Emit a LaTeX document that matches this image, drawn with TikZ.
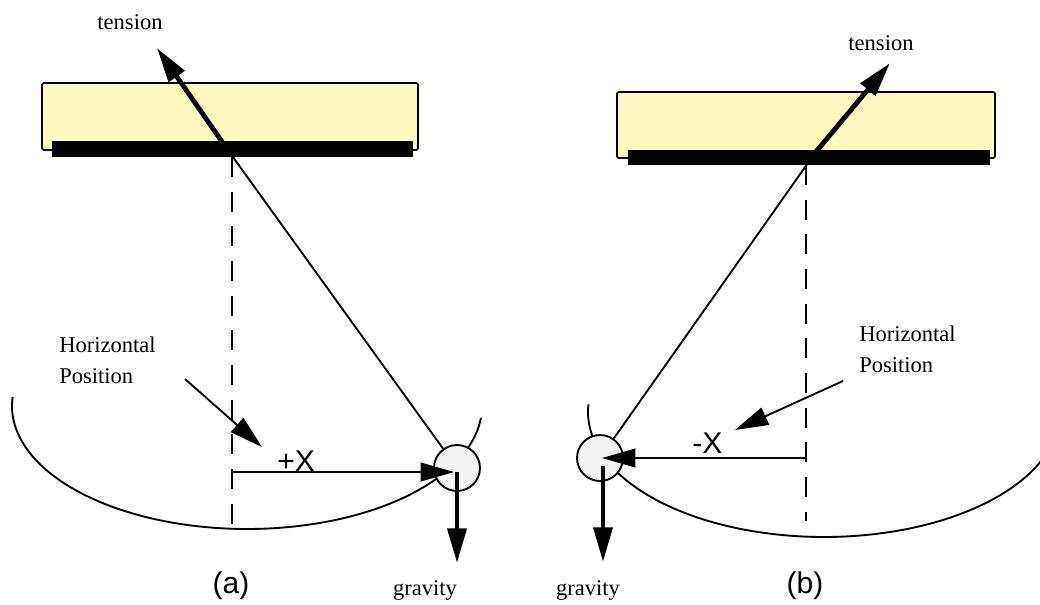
\documentclass[tikz,border=0pt]{standalone}
\usepackage{fontspec}
\usetikzlibrary{arrows.meta}
\newfontfamily\serifT{Liberation Serif}
\newfontfamily\sansT{Liberation Sans}
\definecolor{boxyellow}{RGB}{255,251,192}
\definecolor{bobgray}{RGB}{244,244,244}
\begin{document}
\begin{tikzpicture}[x=0.75pt,y=-0.75pt,
  thinline/.style={line width=1.4pt},
  thickarrow/.style={line width=3.6pt,-{Triangle[length=26pt,width=14pt]}},
  thinarrow/.style={line width=1.4pt,-{Triangle[length=25pt,width=14pt]}},
  dashline/.style={line width=1.4pt,dash pattern=on 15pt off 11pt},
  panel/.style={draw=black,line width=1.2pt,fill=boxyellow,rounded corners=1.2pt},
  bob/.style={circle,draw=black,line width=1.4pt,fill=bobgray,minimum size=34.5pt,inner sep=0pt},
  serlabel/.style={font=\serifT\fontsize{16.9}{20}\selectfont,inner sep=0pt,anchor=base},
  sanslabel/.style={font=\sansT\fontsize{22.5}{26}\selectfont,inner sep=0pt,anchor=base}]
\useasboundingbox (0,0) rectangle (1040,604);
\clip (0,0) rectangle (1040,604);

% ---------- panel (a) ----------
\draw[panel] (42,83) rectangle (418,150);
\fill (52,141) rectangle (413,157);
\coordinate (Pa) at (225,146);
\draw[dashline] (232,157) -- (232,529);
\draw[thinline] plot[domain=5.5:184.2,samples=120,smooth] ({247+235*cos(\x)},{406+123*sin(\x)});
\node[bob] (boba) at (457,468) {};
\draw[thinline] (Pa) -- (boba);
\coordinate (xa0) at (232,472);
\coordinate (xa1) at (454,472);
\draw[thinarrow] (xa0) -- (xa1);
\coordinate (ga1) at (457,563);
\draw[thickarrow] (xa1 -| boba.center) -- (ga1);
\coordinate (ta) at (157,48);
\draw[thickarrow] (Pa) -- (ta);
\coordinate (ha0) at (185,379);
\coordinate (ha1) at (262,447);
\draw[thinarrow] (ha0) -- (ha1);
\node[serlabel] (tena) at (130,29) {tension};
\node[serlabel,anchor=base west] (hora) at (59,352) {Horizontal};
\node[serlabel,anchor=base west] (posa) at (59,383) {Position};
\node[sanslabel,anchor=base west] (pxa) at (277,471) {+X};
\node[serlabel] (grava) at (425,595) {gravity};
\node[sanslabel] (laba) at (231,593) {(a)};

% ---------- panel (b) ----------
\draw[panel] (617,92) rectangle (995,158);
\fill (628,150) rectangle (990,165);
\coordinate (Pb) at (815,153);
\draw[dashline] (806,165) -- (806,521);
\draw[thinline] plot[domain=20:183.5,samples=120,smooth] ({824+236*cos(\x)},{412+125*sin(\x)});
\node[bob] (bobb) at (600,458) {};
\draw[thinline] (Pb) -- (bobb);
\coordinate (xb0) at (806,458);
\coordinate (xb1) at (602,458);
\draw[thinarrow] (xb0) -- (xb1);
\coordinate (gb0) at (603,466);
\coordinate (gb1) at (603,562);
\draw[thickarrow] (gb0) -- (gb1);
\coordinate (tb) at (890,63);
\draw[thickarrow] (Pb) -- (tb);
\coordinate (hb0) at (843,381);
\coordinate (hb1) at (735,430);
\draw[thinarrow] (hb0) -- (hb1);
\node[serlabel] (tenb) at (881,50) {tension};
\node[serlabel,anchor=base west] (horb) at (859,341) {Horizontal};
\node[serlabel,anchor=base west] (posb) at (859,372) {Position};
\node[sanslabel,anchor=base west] (mxb) at (692,453) {-X};
\node[serlabel] (gravb) at (588,595) {gravity};
\node[sanslabel] (labb) at (805,593) {(b)};
\end{tikzpicture}
\end{document}
